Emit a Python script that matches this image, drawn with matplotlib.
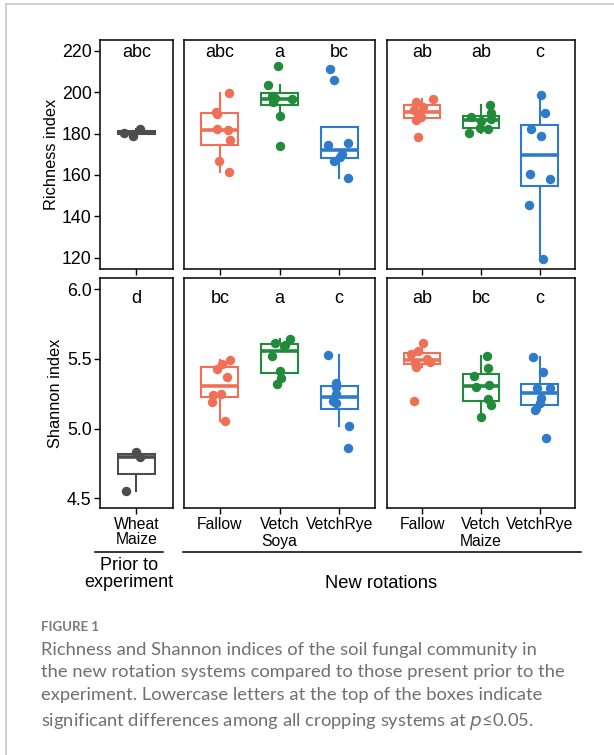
import matplotlib
matplotlib.use("Agg")
import matplotlib.pyplot as plt
from matplotlib.lines import Line2D

# ---- data ----
groups_soya = ["Fallow", "Vetch", "VetchRye"]
groups_maize = ["Fallow", "Vetch", "VetchRye"]
prior_label = "Wheat\nMaize"

# Richness index
rich_prior = [180.3, 179.0, 182.0]
rich_soya_fallow = [199.4, 189.5, 190.3, 182.0, 181.7, 176.9, 166.7, 161.5]
rich_soya_vetch = [212.8, 203.4, 198.0, 197.0, 196.7, 195.4, 188.4, 174.1]
rich_soya_vrye = [211.0, 205.8, 174.4, 175.6, 170.1, 168.8, 166.7, 158.4]
rich_maize_fallow = [196.5, 195.4, 193.0, 191.4, 189.5, 188.1, 186.5, 178.5]
rich_maize_vetch = [193.8, 190.0, 188.1, 186.9, 186.2, 182.8, 182.0, 180.1]
rich_maize_vrye = [198.6, 190.0, 182.0, 178.8, 160.3, 157.9, 145.5, 119.2]

# Shannon index
shan_prior = [4.554, 4.834, 4.798]
shan_soya_fallow = [5.491, 5.46, 5.43, 5.367, 5.245, 5.24, 5.192, 5.056]
shan_soya_vetch = [5.642, 5.615, 5.60, 5.591, 5.52, 5.412, 5.364, 5.319]
shan_soya_vrye = [5.527, 5.328, 5.30, 5.25, 5.195, 5.18, 5.018, 4.858]
shan_maize_fallow = [5.615, 5.558, 5.534, 5.50, 5.479, 5.467, 5.439, 5.20]
shan_maize_vetch = [5.52, 5.431, 5.376, 5.31, 5.30, 5.211, 5.168, 5.085]
shan_maize_vrye = [5.51, 5.407, 5.288, 5.288, 5.216, 5.18, 5.133, 4.93]

# horizontal jitter of the points (category units)
jit_rich_prior = [-0.2, -0.05, 0.06]
jit_rich_soya_fallow = [0.16, -0.05, -0.06, -0.04, 0.13, 0.17, -0.01, 0.15]
jit_rich_soya_vetch = [-0.03, -0.2, -0.13, -0.07, 0.21, -0.11, 0.01, 0.0]
jit_rich_soya_vrye = [-0.16, -0.08, -0.18, 0.14, 0.05, 0.01, -0.09, 0.14]
jit_rich_maize_fallow = [0.18, -0.11, 0.01, -0.13, -0.07, -0.01, -0.11, -0.06]
jit_rich_maize_vetch = [0.15, 0.18, -0.17, 0.18, 0.01, -0.02, 0.12, -0.2]
jit_rich_maize_vrye = [0.03, 0.09, -0.15, 0.03, -0.17, 0.18, -0.19, 0.06]

jit_shan_prior = [-0.17, 0.0, 0.06]
jit_shan_soya_fallow = [0.17, 0.03, -0.05, 0.12, 0.02, -0.12, -0.13, 0.09]
jit_shan_soya_vetch = [0.18, -0.07, 0.1, 0.08, -0.13, 0.01, 0.03, -0.04]
jit_shan_soya_vrye = [-0.18, -0.06, -0.05, -0.05, -0.11, -0.06, 0.16, 0.14]
jit_shan_maize_fallow = [0.01, -0.06, -0.19, 0.08, 0.13, -0.12, -0.11, -0.14]
jit_shan_maize_vetch = [0.1, 0.12, -0.12, 0.14, -0.09, 0.12, 0.17, 0.01]
jit_shan_maize_vrye = [-0.11, 0.06, -0.05, 0.17, 0.03, 0.01, -0.08, 0.11]

# significance letters
let_rich_prior = ["abc"]
let_rich_soya = ["abc", "a", "bc"]
let_rich_maize = ["ab", "ab", "c"]
let_shan_prior = ["d"]
let_shan_soya = ["bc", "a", "c"]
let_shan_maize = ["ab", "bc", "c"]

GRAY = "#4d4d4d"
COLS = ["#ef6f57", "#228b3b", "#2f7bcb"]

W, H = 614, 755
plt.rcParams["font.family"] = ["Liberation Sans", "DejaVu Sans"]
fig = plt.figure(figsize=(W / 100, H / 100), dpi=100)


def fx(x):
    return x / W


def fy(y):
    return 1 - y / H


def make_ax(x0, x1, y0, y1):
    return fig.add_axes([fx(x0), fy(y1), fx(x1) - fx(x0), fy(y0) - fy(y1)])


def draw_panel(ax, data, jitter, colors, letters, ylim, ytop, yticks=None):
    n = len(data)
    pos = list(range(1, n + 1))
    bp = ax.boxplot(data, positions=pos, widths=0.62, showfliers=False,
                    showcaps=False, patch_artist=True, whis=1.5)
    for i, c in enumerate(colors):
        bp["boxes"][i].set(facecolor="white", edgecolor=c, linewidth=1.5)
        bp["medians"][i].set(color=c, linewidth=2.6)
        for w in bp["whiskers"][2 * i:2 * i + 2]:
            w.set(color=c, linewidth=1.5)
        xs = [pos[i] + j for j in jitter[i]]
        ax.plot(xs, data[i], "o", color=c, markersize=6.8, zorder=5,
                markeredgewidth=0)
        ax.text(pos[i], ytop, letters[i], ha="center", va="center",
                fontsize=13)
    ax.set_xlim(0.4, n + 0.6)
    ax.set_ylim(*ylim)
    ax.set_xticks(pos)
    ax.tick_params(axis="x", length=4, width=1, labelbottom=False)
    if yticks is None:
        ax.set_yticks([])
    else:
        ax.set_yticks(yticks)
        ax.tick_params(axis="y", length=4, width=1, labelsize=12.8, pad=2)
    for s in ax.spines.values():
        s.set_linewidth(1.1)


PX = [(100, 172.7), (184, 375), (386.7, 575)]
TOP = (40, 269)
BOT = (278.3, 508.3)
rich_lim = (114.5, 225.2)
shan_lim = (4.428, 6.077)

# Richness row
a = make_ax(*PX[0], *TOP)
draw_panel(a, [rich_prior], [jit_rich_prior], [GRAY], let_rich_prior,
           rich_lim, 219.0, yticks=[120, 140, 160, 180, 200, 220])
a.set_ylabel("Richness index", fontsize=11.8, labelpad=2)
a = make_ax(*PX[1], *TOP)
draw_panel(a, [rich_soya_fallow, rich_soya_vetch, rich_soya_vrye],
           [jit_rich_soya_fallow, jit_rich_soya_vetch, jit_rich_soya_vrye],
           COLS, let_rich_soya, rich_lim, 219.0)
a = make_ax(*PX[2], *TOP)
draw_panel(a, [rich_maize_fallow, rich_maize_vetch, rich_maize_vrye],
           [jit_rich_maize_fallow, jit_rich_maize_vetch, jit_rich_maize_vrye],
           COLS, let_rich_maize, rich_lim, 219.0)

# Shannon row
a = make_ax(*PX[0], *BOT)
draw_panel(a, [shan_prior], [jit_shan_prior], [GRAY], let_shan_prior,
           shan_lim, 5.93, yticks=[4.5, 5.0, 5.5, 6.0])
a.set_yticklabels(["4.5", "5.0", "5.5", "6.0"])
a.set_ylabel("Shannon index", fontsize=11.8, labelpad=3)
a.tick_params(axis="x", labelbottom=True, labelsize=11.3, pad=2)
a.set_xticklabels([prior_label], linespacing=1.0)
a = make_ax(*PX[1], *BOT)
draw_panel(a, [shan_soya_fallow, shan_soya_vetch, shan_soya_vrye],
           [jit_shan_soya_fallow, jit_shan_soya_vetch, jit_shan_soya_vrye],
           COLS, let_shan_soya, shan_lim, 5.93)
a.tick_params(axis="x", labelbottom=True, labelsize=11.3, pad=2)
a.set_xticklabels(groups_soya)
a.text(0.5, -0.143, "Soya", transform=a.transAxes, ha="center", va="center",
       fontsize=11.3)
a = make_ax(*PX[2], *BOT)
draw_panel(a, [shan_maize_fallow, shan_maize_vetch, shan_maize_vrye],
           [jit_shan_maize_fallow, jit_shan_maize_vetch, jit_shan_maize_vrye],
           COLS, let_shan_maize, shan_lim, 5.93)
a.tick_params(axis="x", labelbottom=True, labelsize=11.3, pad=2)
a.set_xticklabels(groups_maize)
a.text(0.5, -0.143, "Maize", transform=a.transAxes, ha="center", va="center",
       fontsize=11.3)

# grouping lines and labels
fig.add_artist(Line2D([fx(95), fx(163)], [fy(552), fy(552)], color="black",
                      linewidth=1.1))
fig.add_artist(Line2D([fx(183), fx(581)], [fy(552), fy(552)], color="black",
                      linewidth=1.1))
fig.text(fx(129), fy(574), "Prior to\nexperiment", ha="center", va="center",
         fontsize=13, linespacing=0.95)
fig.text(fx(381), fy(583), "New rotations", ha="center", va="center",
         fontsize=13.2)

# page frame
fig.add_artist(Line2D([fx(6), fx(614)], [fy(4), fy(4)], color="#c8c8c8",
                      linewidth=1.2))
fig.add_artist(Line2D([fx(6), fx(6)], [fy(4), fy(755)], color="#c8c8c8",
                      linewidth=1.2))

# caption
fig.text(fx(41), fy(627), "FIGURE 1", ha="left", va="center", fontsize=9.5,
         color="#7a7a7a", family="Lato", weight="bold")
caption = ("Richness and Shannon indices of the soil fungal community in\n"
           "the new rotation systems compared to those present prior to the\n"
           "experiment. Lowercase letters at the top of the boxes indicate\n"
           "significant differences among all cropping systems at $p$\u22640.05.")
fig.text(fx(41), fy(642), caption, ha="left", va="top", fontsize=13.2,
         color="#707070", family="Lato", linespacing=1.5)

fig.savefig("out.png", dpi=100)
